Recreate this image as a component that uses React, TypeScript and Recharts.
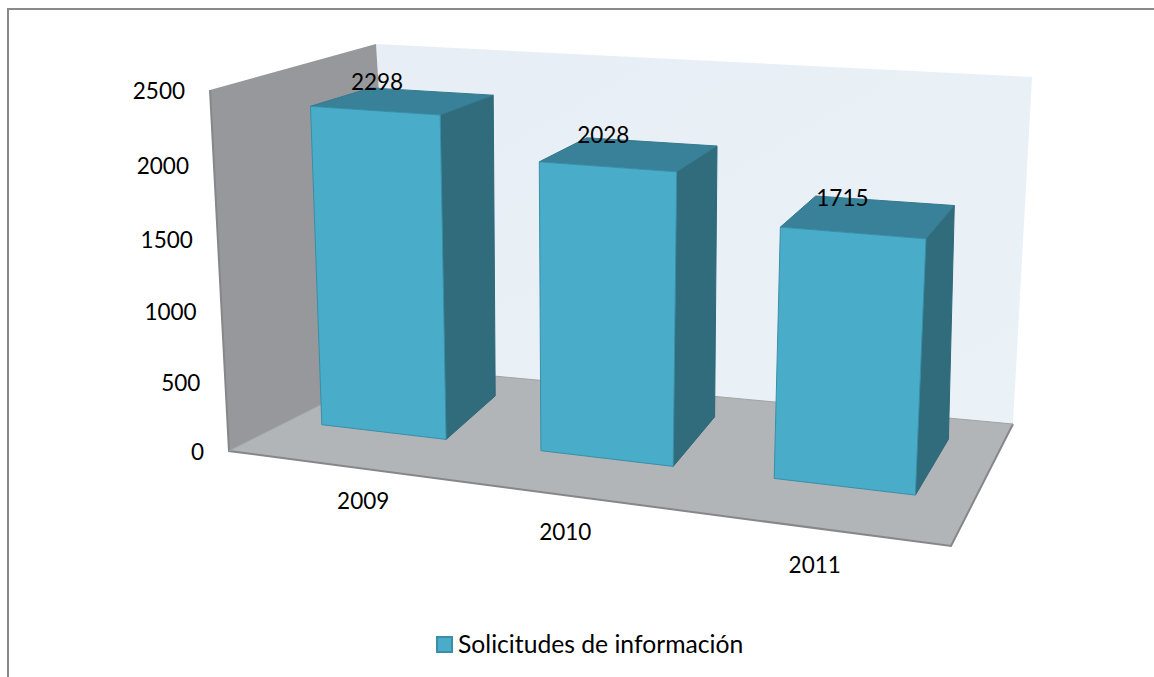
import { BarChart, Bar, XAxis, YAxis, LabelList } from "recharts";

const years = ["2009", "2010", "2011"];
const solicitudes = [2298, 2028, 1715];
const yTicks = [0, 500, 1000, 1500, 2000, 2500];
const serieName = "Solicitudes de información";

const chartData = years.map((year, i) => ({ year, solicitudes: solicitudes[i] }));

// flat plot that recharts lays out; every mark is then pushed through a fake 3d view
const W = 1154;
const H = 677;
const PLOT = { left: 250, top: 100, width: 600, height: 400 };
const PLOT_BOTTOM = PLOT.top + PLOT.height;
const AXIS_SIZE = 10;

const FONT = "Lato, Carlito, sans-serif";
type Pt = [number, number];

// room floor corners (front/back, left/right) and where the walls top out
const floor = { fl: [229, 451] as Pt, fr: [951, 546] as Pt, bl: [396, 367] as Pt, br: [1013, 424] as Pt };
const wallTop = { fl: [210, 90] as Pt, bl: [376, 44] as Pt, br: [1032, 77] as Pt };
// bars lean a little differently from the walls in the original render
const barFloor = { fl: [247, 451] as Pt, fr: [950, 546] as Pt, bl: [363, 367] as Pt, br: [1016, 424] as Pt };
const barTop = { fl: [227, 87] as Pt, fr: [975, 137] as Pt, bl: [360, 53] as Pt, br: [1023, 88] as Pt };

const DEPTH_FRONT = 0.36;
const DEPTH_BACK = 0.83;

const mix = (a: Pt, b: Pt, k: number): Pt => [a[0] + (b[0] - a[0]) * k, a[1] + (b[1] - a[1]) * k];
const warpX = (t: number) => -0.018 + (1.01 * t) / (t + 1.1 * (1 - t));
const warpY = (h: number) => h / (h + 1.05 * (1 - h));

function quad(c: { fl: Pt; fr: Pt; bl: Pt; br: Pt }, u: number, d: number): Pt {
  return mix(mix(c.fl, c.fr, u), mix(c.bl, c.br, u), d);
}

function project(t: number, d: number, h: number): Pt {
  const u = warpX(t);
  return mix(quad(barFloor, u, d), quad(barTop, u, d), warpY(h));
}

const toT = (x: number) => (x - PLOT.left) / PLOT.width;
const toH = (y: number) => (PLOT_BOTTOM - y) / PLOT.height;
const pts = (list: Pt[]) => list.map((p) => `${p[0].toFixed(1)},${p[1].toFixed(1)}`).join(" ");

function Room() {
  const { fl, fr, bl, br } = floor;
  return (
    <g>
      <polygon points={pts([bl, br, wallTop.br, wallTop.bl])} fill="url(#backWall)" />
      <polygon points={pts([fl, bl, wallTop.bl, wallTop.fl])} fill="#96989c" />
      <polygon points={pts([fl, fr, br, bl])} fill="#b1b5b8" />
      <polyline points={pts([wallTop.fl, fl, fr, br])} fill="none" stroke="#85878a" strokeWidth={2} />
      <line x1={bl[0]} y1={bl[1]} x2={br[0]} y2={br[1]} stroke="#a0a3a6" strokeWidth={1} />
      <line x1={bl[0]} y1={bl[1]} x2={fl[0]} y2={fl[1]} stroke="#a3a6a9" strokeWidth={1} />
    </g>
  );
}

function Bar3D(props: any) {
  const { x, y, width, height } = props;
  const t0 = toT(x);
  const t1 = toT(x + width);
  const h = toH(y);
  const bottom = toH(y + height);
  const a = DEPTH_FRONT;
  const b = DEPTH_BACK;
  return (
    <g strokeWidth={1} strokeLinejoin="round">
      <polygon
        points={pts([project(t1, a, bottom), project(t1, b, bottom), project(t1, b, h), project(t1, a, h)])}
        fill="#316c7d"
        stroke="#2f6778"
      />
      <polygon
        points={pts([project(t0, a, h), project(t1, a, h), project(t1, b, h), project(t0, b, h)])}
        fill="#388199"
        stroke="#35798f"
      />
      <polygon
        points={pts([project(t0, a, bottom), project(t1, a, bottom), project(t1, a, h), project(t0, a, h)])}
        fill="#49acc8"
        stroke="#3a8ea8"
      />
    </g>
  );
}

function BarValue(props: any) {
  const { x, y, width, value } = props;
  const [px, py] = project(toT(x + width / 2), (DEPTH_FRONT + DEPTH_BACK) / 2, toH(y));
  return (
    <text x={px - 26} y={py - 19} dy="0.35em" textAnchor="middle" fontFamily={FONT} fontSize={22.5} fill="#000">
      {value}
    </text>
  );
}

function YTick(props: any) {
  const { y, payload } = props;
  const h = warpY(toH(y));
  const [px, py] = mix(floor.fl, wallTop.fl, h);
  return (
    <text x={px - 25} y={py + 1.5} dy="0.35em" textAnchor="end" fontFamily={FONT} fontSize={22.5} fill="#000">
      {payload.value}
    </text>
  );
}

// front edge labels don't sit evenly in the original
const xNudge = [35, 2, 1];

function XTick(props: any) {
  const { x, payload, index } = props;
  const [px, py] = quad(floor, warpX(toT(x)), 0);
  return (
    <text x={px + xNudge[index]} y={py + 37} dy="0.35em" textAnchor="middle" fontFamily={FONT} fontSize={22.5} fill="#000">
      {payload.value}
    </text>
  );
}

export default function App() {
  return (
    <div style={{ position: "absolute", left: 0, top: 0, width: W, height: H, background: "#fff", overflow: "hidden" }}>
      <div
        style={{
          position: "absolute",
          left: 7,
          top: 8,
          width: W,
          height: H,
          borderLeft: "2px solid #8a8a8a",
          borderTop: "2px solid #8a8a8a",
        }}
      />
      <div style={{ position: "absolute", left: 0, top: 0 }}>
        <BarChart
          width={W}
          height={H}
          data={chartData}
          margin={{
            top: PLOT.top,
            left: PLOT.left - AXIS_SIZE,
            right: W - PLOT.left - PLOT.width,
            bottom: H - PLOT_BOTTOM - AXIS_SIZE,
          }}
          barSize={115}
        >
          <defs>
            <linearGradient id="backWall" x1="0" y1="0" x2="1" y2="1">
              <stop offset="0%" stopColor="#e7eef5" />
              <stop offset="100%" stopColor="#eaf2f8" />
            </linearGradient>
          </defs>
          <Room />
          <XAxis
            dataKey="year"
            height={AXIS_SIZE}
            interval={0}
            axisLine={false}
            tickLine={false}
            tick={(p: any) => <XTick {...p} />}
          />
          <YAxis
            domain={[0, 2500]}
            ticks={yTicks}
            width={AXIS_SIZE}
            interval={0}
            axisLine={false}
            tickLine={false}
            tick={(p: any) => <YTick {...p} />}
          />
          <Bar dataKey="solicitudes" name={serieName} isAnimationActive={false} shape={(p: any) => <Bar3D {...p} />}>
            <LabelList dataKey="solicitudes" content={(p: any) => <BarValue {...p} />} />
          </Bar>
        </BarChart>
      </div>
      <div
        style={{
          position: "absolute",
          left: 436,
          top: 630,
          display: "flex",
          alignItems: "center",
          gap: 5,
          fontFamily: FONT,
          fontSize: 24.7,
          lineHeight: "28px",
          color: "#000",
          whiteSpace: "nowrap",
        }}
      >
        <span style={{ width: 13, height: 13, background: "#49acc8", border: "2px solid #3a8ea8", display: "inline-block" }} />
        {serieName}
      </div>
    </div>
  );
}
